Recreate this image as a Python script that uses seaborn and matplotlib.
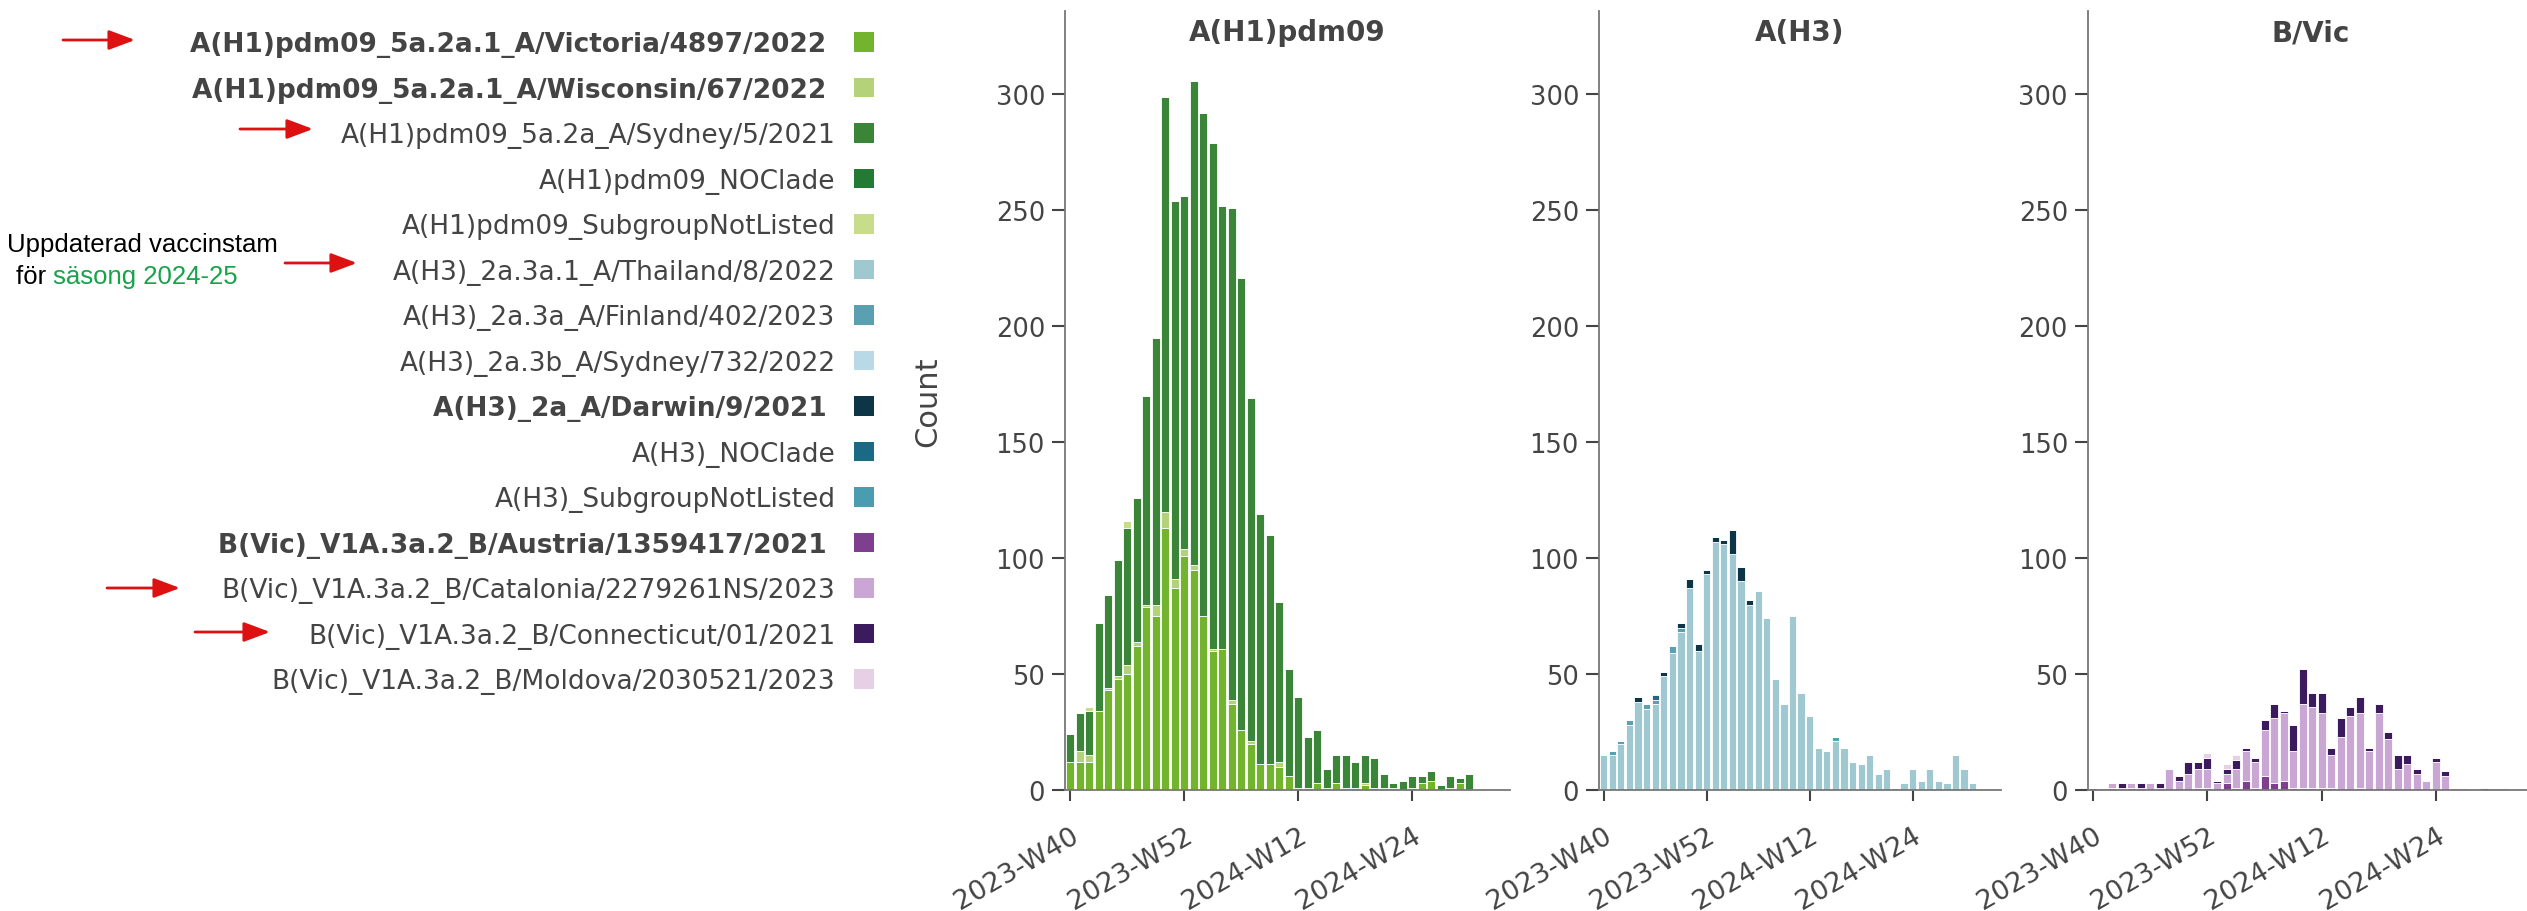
import pandas as pd
import matplotlib
matplotlib.use("Agg")
import matplotlib.pyplot as plt
from matplotlib.patches import Patch
from matplotlib.text import Annotation
import seaborn as sns

sns.set_style("ticks")
plt.rcParams["font.family"] = ["DejaVu Sans"]

# x categories: ISO weeks from 2023-W40 (2023 has 52 weeks)
weeks = [f"2023-W{w}" for w in range(40, 53)] + [f"2024-W{w:02d}" for w in range(1, 33)]
tick_weeks = ["2023-W40", "2023-W52", "2024-W12", "2024-W24"]

# A(H1)pdm09 counts per week, starting 2023-W40
h1_victoria = [12, 12, 12, 34, 43, 48, 50, 62, 79, 75, 113, 87, 101, 95, 75, 60, 61, 37, 26, 20, 11, 11,
               10, 6, 1, 1, 3, 1, 3, 1, 1, 2, 1, 1, 1, 0, 1, 3, 4, 0, 1, 3, 0]
h1_wisconsin = [0, 5, 3, 0, 1, 1, 4, 2, 1, 5, 7, 4, 3, 2, 0, 1, 0, 2, 0, 1, 0, 0,
                2, 0, 0, 0, 0, 0, 0, 0, 0, 1, 0, 0, 0, 0, 0, 0, 0, 0, 0, 0, 0]
h1_sydney = [12, 16, 19, 38, 40, 50, 59, 62, 90, 115, 179, 163, 152, 209, 217, 218, 191, 212, 195, 148, 108, 99,
             69, 46, 39, 22, 23, 8, 12, 14, 11, 12, 13, 6, 2, 4, 5, 3, 4, 2, 5, 2, 7]
h1_notlisted = [0, 0, 2, 0, 0, 0, 3, 0, 0, 0, 0, 0, 0, 0, 0, 0, 0, 0, 0, 0, 0, 0,
                0, 0, 0, 0, 0, 0, 0, 0, 0, 0, 0, 0, 0, 0, 0, 0, 0, 0, 0, 0, 0]

# A(H3)
h3_thailand = [15, 15, 20, 28, 38, 35, 37, 49, 59, 68, 87, 60, 93, 107, 106, 102, 90, 80, 86, 74, 48, 37,
               75, 42, 32, 18, 17, 21, 18, 12, 11, 15, 7, 9, 1, 3, 9, 4, 9, 4, 3, 15, 9, 3]
h3_finland = [0, 2, 1, 2, 0, 2, 2, 0, 3, 2, 0, 0, 0, 0, 0, 0, 0, 0, 0, 0, 0, 0,
              0, 0, 0, 0, 0, 2, 0, 0, 0, 0, 0, 0, 0, 0, 0, 0, 0, 0, 0, 0, 0, 0]
h3_darwin = [0, 0, 0, 0, 2, 0, 0, 2, 0, 2, 4, 3, 2, 2, 2, 10, 6, 2, 0, 0, 0, 0,
             0, 0, 0, 0, 0, 0, 0, 0, 0, 0, 0, 0, 0, 0, 0, 0, 0, 0, 0, 0, 0, 0]
h3_noclade = [0, 0, 0, 0, 0, 0, 2, 0, 0, 0, 0, 0, 0, 0, 0, 0, 0, 0, 0, 0, 0, 0,
              0, 0, 0, 0, 0, 0, 0, 0, 0, 0, 0, 0, 0, 0, 0, 0, 0, 0, 0, 0, 0, 0]

# B/Vic
bvic_austria = [1, 0, 1, 0, 1, 1, 0, 0, 0, 0, 0, 1, 1, 0, 3, 1, 4, 1, 6, 3, 4, 1,
                1, 1, 1, 1, 0, 0, 1, 0, 0, 0, 0, 0, 0, 0, 0, 0, 0, 0, 0, 0, 0, 0]
bvic_catalonia = [0, 1, 2, 1, 2, 0, 3, 1, 9, 4, 7, 8, 8, 3, 4, 8, 13, 11, 20, 28, 29, 16,
                  36, 35, 32, 14, 23, 32, 32, 17, 33, 22, 9, 11, 7, 4, 12, 6, 1, 1, 0, 0, 1, 1]
bvic_connecticut = [0, 0, 0, 2, 0, 2, 0, 2, 0, 2, 5, 3, 5, 1, 2, 4, 1, 2, 4, 6, 1, 11,
                    15, 6, 9, 3, 8, 4, 7, 1, 4, 3, 6, 4, 2, 0, 2, 2, 0, 0, 0, 1, 0, 0]
bvic_moldova = [0, 0, 0, 0, 0, 0, 0, 0, 0, 0, 0, 0, 2, 0, 2, 2, 0, 0, 0, 0, 0, 0,
                0, 0, 0, 0, 0, 0, 0, 0, 0, 0, 0, 0, 0, 0, 0, 0, 0, 0, 0, 0, 0, 0]

clades = [
    "A(H1)pdm09_5a.2a.1_A/Victoria/4897/2022",
    "A(H1)pdm09_5a.2a.1_A/Wisconsin/67/2022",
    "A(H1)pdm09_5a.2a_A/Sydney/5/2021",
    "A(H1)pdm09_NOClade",
    "A(H1)pdm09_SubgroupNotListed",
    "A(H3)_2a.3a.1_A/Thailand/8/2022",
    "A(H3)_2a.3a_A/Finland/402/2023",
    "A(H3)_2a.3b_A/Sydney/732/2022",
    "A(H3)_2a_A/Darwin/9/2021",
    "A(H3)_NOClade",
    "A(H3)_SubgroupNotListed",
    "B(Vic)_V1A.3a.2_B/Austria/1359417/2021",
    "B(Vic)_V1A.3a.2_B/Catalonia/2279261NS/2023",
    "B(Vic)_V1A.3a.2_B/Connecticut/01/2021",
    "B(Vic)_V1A.3a.2_B/Moldova/2030521/2023",
]
clade_colors = ["#72b42e", "#b3d27a", "#3a8538", "#237a35", "#c8dc8c",
                "#a0c8d0", "#5aa0b0", "#b9d9e6", "#0c3547", "#1a6a86", "#4a9db0",
                "#7e3f8f", "#c9a6d3", "#3c1a5e", "#e6d0e6"]
bold_clades = [0, 1, 8, 11]
palette = dict(zip(clades, clade_colors))

panels = {
    "A(H1)pdm09": {clades[0]: h1_victoria, clades[1]: h1_wisconsin, clades[2]: h1_sydney, clades[4]: h1_notlisted},
    "A(H3)": {clades[5]: h3_thailand, clades[6]: h3_finland, clades[8]: h3_darwin, clades[9]: h3_noclade},
    "B/Vic": {clades[11]: bvic_austria, clades[12]: bvic_catalonia, clades[13]: bvic_connecticut,
              clades[14]: bvic_moldova},
}

W, H = 2527, 912
fig = plt.figure(figsize=(W / 100, H / 100), dpi=100)

# axes boxes in pixels: left, right
boxes = [(1065, 1510), (1599, 2001), (2088, 2534)]
top_px, bottom_px = 12, 791
text_col = "#444444"

for (title, series), (x0, x1) in zip(panels.items(), boxes):
    ax = fig.add_axes([x0 / W, (H - bottom_px) / H, (x1 - x0) / W, (bottom_px - top_px) / H])
    rows = []
    for clade, counts in series.items():
        for i, n in enumerate(counts):
            if n > 0:
                rows.append((i, clade, n))
    df = pd.DataFrame(rows, columns=["week", "clade", "count"])
    order = [c for c in series if c in set(df["clade"])]
    # seaborn stacks the first hue level on top, so reverse
    sns.histplot(data=df, x="week", weights="count", hue="clade", hue_order=order[::-1],
                 palette=palette, multiple="stack", discrete=True, shrink=0.84, alpha=1,
                 edgecolor="white", linewidth=0.6, legend=False, ax=ax)
    ax.set_xlim(-0.55, 46.3)
    ax.set_ylim(0, 336)
    ax.set_yticks(range(0, 301, 50))
    ax.set_xticks([weeks.index(t) for t in tick_weeks])
    ax.set_xticklabels(tick_weeks, rotation=30, ha="right", rotation_mode="anchor")
    ax.set_xlabel("")
    ax.set_ylabel("")
    sns.despine(ax=ax)
    for s in ["left", "bottom"]:
        ax.spines[s].set_color("#777777")
        ax.spines[s].set_linewidth(1.3)
    ax.tick_params(axis="y", labelsize=18.5, labelcolor=text_col, color="#444444",
                   length=9.4, width=1.5, pad=5)
    ax.tick_params(axis="x", labelsize=19.5, labelcolor=text_col, color="#444444",
                   length=8, width=1.5, pad=15)
    ax.text(0.5, 0.973, title, transform=ax.transAxes, ha="center", va="center",
            fontsize=20, fontweight="bold", color=text_col)
    if title == "A(H1)pdm09":
        ax.set_ylabel("Count", fontsize=22, color=text_col)
        ax.yaxis.set_label_coords(-0.276, 0.5)

# legend on the left, text right aligned with swatch after it
handles = [Patch(facecolor=c, edgecolor="none") for c in clade_colors]
labels = [c + " " if i in bold_clades else c for i, c in enumerate(clades)]
leg = fig.legend(handles, labels, loc="upper right", bbox_to_anchor=(874 / W, 1 - 32 / H),
                 markerfirst=False, frameon=False, fontsize=19, handlelength=0.76,
                 handleheight=0.76, handletextpad=0.7, labelspacing=0.74,
                 borderpad=0, borderaxespad=0)
for i, t in enumerate(leg.get_texts()):
    t.set_color(text_col)
    if i in bold_clades:
        t.set_fontweight("bold")

# red arrows pointing at the updated strains
arrow_rows = [(63, 135, 41), (240, 313, 130), (285, 357, 264), (107, 180, 589), (195, 270, 633)]
for xa, xb, y in arrow_rows:
    fig.add_artist(Annotation("", xy=(xb, H - y), xytext=(xa, H - y), xycoords="figure pixels",
                              arrowprops=dict(arrowstyle="-|>,head_length=0.8,head_width=0.3",
                                              color="#dd1111", lw=2, mutation_scale=20,
                                              shrinkA=0, shrinkB=0)))

note_font = ["Liberation Sans", "DejaVu Sans"]
fig.text(7 / W, 1 - 245 / H, "Uppdaterad vaccinstam", ha="left", va="center",
         fontsize=18.5, family=note_font, color="black")
t1 = fig.text(16 / W, 1 - 277 / H, "för ", ha="left", va="center",
              fontsize=18.5, family=note_font, color="black")
fig.add_artist(Annotation("säsong 2024-25", xy=(1, 0), xycoords=t1, ha="left", va="bottom",
                          fontsize=18.5, family=note_font, color="#16a34a"))

fig.savefig("out.png", dpi=100)
